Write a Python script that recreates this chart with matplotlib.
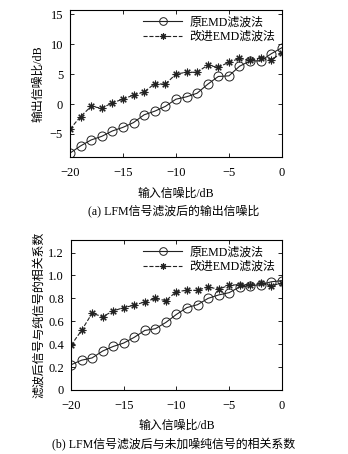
import matplotlib
matplotlib.use('Agg')
import matplotlib.pyplot as plt

plt.rcParams['font.family'] = ['Liberation Serif', 'Noto Sans CJK SC']
plt.rcParams['axes.unicode_minus'] = True

# input SNR (dB)
snr_in = list(range(-20, 1))

# (a) output SNR (dB)
snr_orig = [-8.2, -7.0, -6.0, -5.4, -4.5, -3.9, -3.1, -1.8, -1.2, -0.4, 0.8,
            1.2, 1.8, 3.3, 4.6, 4.7, 6.3, 7.2, 7.2, 8.4, 9.4]
snr_impr = [-4.2, -2.1, -0.4, -0.7, 0.2, 0.8, 1.5, 2.0, 3.4, 3.3, 5.0,
            5.3, 5.3, 6.5, 6.1, 7.0, 7.6, 7.3, 7.7, 7.3, 8.6]

# (b) correlation coefficient
corr_orig = [0.22, 0.26, 0.28, 0.34, 0.38, 0.41, 0.46, 0.52, 0.535, 0.59, 0.66,
             0.72, 0.745, 0.80, 0.83, 0.85, 0.90, 0.91, 0.92, 0.945, 0.955]
corr_impr = [0.39, 0.52, 0.67, 0.64, 0.69, 0.72, 0.74, 0.77, 0.80, 0.78, 0.86,
             0.87, 0.87, 0.90, 0.88, 0.915, 0.92, 0.92, 0.93, 0.91, 0.935]

labels = ['原EMD滤波法', '改进EMD滤波法']
xticks = [-20, -15, -10, -5, 0]

fig = plt.figure(figsize=(3.48, 4.54), dpi=100)
ax1 = fig.add_axes([0.201, 0.6535, 0.609, 0.3245])
ax2 = fig.add_axes([0.204, 0.141, 0.606, 0.3304])

star = (8, 2, 0)
fs = 8.6
col = '#222222'

def style(ax):
    ax.tick_params(direction='in', top=True, right=True, labelsize=9,
                   length=3, width=0.6, pad=5)
    ax.tick_params(axis='x', pad=7)
    for s in ax.spines.values():
        s.set_linewidth(0.8)
    ax.set_xlim(-20, 0)
    ax.set_xticks(xticks)
    ax.set_xlabel('输入信噪比/dB', fontsize=fs, labelpad=6)
    ax.legend(loc='upper right', frameon=False, fontsize=fs, handlelength=3.3,
              handletextpad=0.6, labelspacing=0.2, borderaxespad=0.15,
              markerscale=0.85)

ax1.plot(snr_in, snr_orig, '-', color=col, lw=0.8, marker='o', ms=6.5,
         mfc='none', mec=col, mew=0.7, label=labels[0])
ax1.plot(snr_in, snr_impr, '--', color=col, lw=0.8, marker=star, ms=5.5,
         mec=col, mew=0.8, label=labels[1])
ax1.set_ylim(-8.9, 15.7)
ax1.set_yticks([-5, 0, 5, 10, 15])
ax1.set_ylabel('输出信噪比/dB', fontsize=fs, labelpad=4)
style(ax1)

ax2.plot(snr_in, corr_orig, '-', color=col, lw=0.8, marker='o', ms=6.5,
         mfc='none', mec=col, mew=0.7, label=labels[0])
ax2.plot(snr_in, corr_impr, '--', color=col, lw=0.8, marker=star, ms=5.5,
         mec=col, mew=0.8, label=labels[1])
ax2.set_ylim(0, 1.31)
ax2.set_yticks([0, 0.2, 0.4, 0.6, 0.8, 1.0, 1.2])
ax2.set_yticklabels(['0', '0.2', '0.4', '0.6', '0.8', '1.0', '1.2'])
ax2.set_ylabel('滤波后信号与纯信号的相关系数', fontsize=fs, labelpad=2)
style(ax2)

fig.text(0.5, 1 - 211 / 454, '(a) LFM信号滤波后的输出信噪比', ha='center',
         va='center', fontsize=fs)
fig.text(0.5, 1 - 445 / 454, '(b) LFM信号滤波后与未加噪纯信号的相关系数',
         ha='center', va='center', fontsize=fs)

fig.savefig('out.png', dpi=100)
